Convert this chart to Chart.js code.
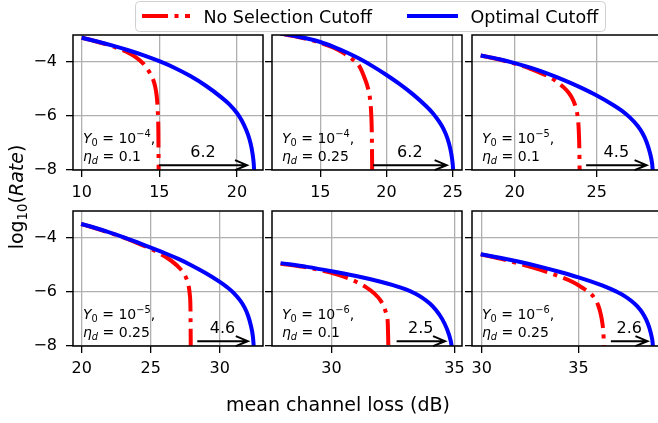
<!DOCTYPE html>
<html>
<head>
<meta charset="utf-8">
<script src="https://cdn.jsdelivr.net/npm/chart.js@4.4.1/dist/chart.umd.min.js"></script>
<style>
  html, body { margin: 0; padding: 0; background: #fff; }
  body { width: 658px; height: 423px; overflow: hidden; position: relative; font-family: "DejaVu Sans", sans-serif; }
  canvas.panel { position: absolute; left: 0; top: 0; }
  #overlay { position: absolute; left: 0; top: 0; }
</style>
</head>
<body>
<canvas id="p0" class="panel" width="670" height="423"></canvas>
<canvas id="p1" class="panel" width="670" height="423"></canvas>
<canvas id="p2" class="panel" width="670" height="423"></canvas>
<canvas id="p3" class="panel" width="670" height="423"></canvas>
<canvas id="p4" class="panel" width="670" height="423"></canvas>
<canvas id="p5" class="panel" width="670" height="423"></canvas>

<svg id="overlay" width="658" height="423" font-family="DejaVu Sans">
  <rect x="135.5" y="1.5" width="470" height="30" rx="4" ry="4" fill="#fff" fill-opacity="0.8" stroke="#d0d0d0" stroke-width="1"/>
  <line x1="142" y1="16" x2="190" y2="16" stroke="#ff0000" stroke-width="4" stroke-dasharray="26 6.5 4 6.5"/>
  <text x="203.5" y="22.5" font-size="17.5">No Selection Cutoff</text>
  <line x1="407" y1="16" x2="458" y2="16" stroke="#0000ff" stroke-width="4"/>
  <text x="470.5" y="22.5" font-size="17.5">Optimal Cutoff</text>
  <text x="338" y="411" font-size="19" text-anchor="middle">mean channel loss (dB)</text>
  <text x="23" y="197" font-size="19" text-anchor="middle" transform="rotate(-90 23 197)">log<tspan font-size="13.3" dy="4">10</tspan><tspan dy="-4">(</tspan><tspan font-style="italic">Rate</tspan>)</text>
</svg>

<script>
// ---- data ----
const y0Exp = ['\u22124', '\u22124', '\u22125', '\u22125', '\u22126', '\u22126'];
const etaD = ['0.1', '0.25', '0.1', '0.25', '0.1', '0.25'];
const gainLabels = ['6.2', '6.2', '4.5', '4.6', '2.5', '2.6'];
const arrowFrom = [14.99, 18.98, 24.35, 28.37, 32.65, 36.67];
const arrowTo = [20.65, 24.54, 28.04, 32.03, 34.62, 38.56];
const arrowY = -7.82;
const xMin = [9.44, 11.35, 17.39, 19.37, 27.58, 29.50];
const xMax = [21.68, 25.70, 28.98, 33.13, 35.31, 39.31];
const yMin = -8, yMax = -3;

// [loss dB, log10 rate]
const optimal1 = [[10,-3.10],[11,-3.24],[12,-3.395],[13,-3.565],[14,-3.755],[15,-3.97],[16,-4.22],[17,-4.52],[18,-4.88],[19,-5.31],[19.5,-5.56],[20,-5.89],[20.3,-6.16],[20.6,-6.52],[20.8,-6.84],[20.95,-7.2],[21.05,-7.58],[21.1,-7.93],[21.12,-8.3]];
const noSel1 = [[10,-3.10],[11,-3.25],[12,-3.42],[12.5,-3.53],[13,-3.66],[13.5,-3.83],[14,-4.08],[14.3,-4.32],[14.55,-4.58],[14.72,-4.88],[14.83,-5.25],[14.9,-5.8],[14.94,-6.6],[14.96,-8.3]];
const optimal2 = [[12,-2.95],[13,-3.03],[14,-3.13],[15,-3.26],[16,-3.44],[17,-3.65],[18,-3.89],[19,-4.17],[20,-4.48],[21,-4.82],[22,-5.2],[23,-5.64],[23.5,-5.9],[24,-6.23],[24.3,-6.48],[24.6,-6.83],[24.8,-7.18],[24.95,-7.58],[25.03,-7.98],[25.06,-8.3]];
const noSel2 = [[12,-2.95],[13,-3.04],[14,-3.15],[15,-3.29],[16,-3.47],[16.8,-3.68],[17.5,-3.93],[18,-4.2],[18.35,-4.6],[18.6,-4.97],[18.75,-5.35],[18.84,-5.9],[18.89,-6.7],[18.92,-8.3]];
const optimal3 = [[17.92,-3.76],[19,-3.89],[20,-4.04],[21,-4.22],[22,-4.43],[23,-4.67],[24,-4.94],[25,-5.24],[26,-5.59],[26.5,-5.79],[27,-6.04],[27.5,-6.37],[27.8,-6.65],[28.05,-6.98],[28.25,-7.38],[28.38,-7.78],[28.45,-8.3]];
const noSel3 = [[17.92,-3.76],[19,-3.9],[20,-4.06],[21,-4.26],[22,-4.52],[22.5,-4.7],[23,-4.95],[23.3,-5.15],[23.55,-5.4],[23.72,-5.68],[23.83,-6.0],[23.9,-6.5],[23.94,-7.3],[23.96,-8.3]];
const optimal4 = [[19.96,-3.48],[21,-3.63],[22,-3.79],[23,-3.965],[24,-4.155],[25,-4.355],[26,-4.555],[27,-4.775],[28,-5.025],[29,-5.305],[30,-5.625],[30.5,-5.81],[31,-6.03],[31.5,-6.33],[31.8,-6.58],[32.05,-6.88],[32.25,-7.24],[32.4,-7.66],[32.5,-8.3]];
const noSel4 = [[19.96,-3.48],[21,-3.64],[22,-3.8],[23,-3.98],[24,-4.18],[25,-4.4],[25.6,-4.56],[26.2,-4.74],[26.7,-4.93],[27.1,-5.12],[27.4,-5.32],[27.6,-5.52],[27.74,-5.76],[27.83,-6.1],[27.88,-6.7],[27.9,-8.3]];
const optimal5 = [[27.93,-4.93],[29,-5.07],[30,-5.23],[31,-5.41],[32,-5.62],[32.5,-5.745],[33,-5.895],[33.4,-6.055],[33.7,-6.215],[34,-6.425],[34.25,-6.665],[34.5,-6.995],[34.7,-7.375],[34.85,-7.805],[34.94,-8.3]];
const noSel5 = [[27.93,-4.95],[29,-5.09],[29.5,-5.18],[30,-5.29],[30.5,-5.43],[31,-5.62],[31.4,-5.82],[31.75,-6.06],[32,-6.32],[32.15,-6.58],[32.24,-6.85],[32.29,-7.15],[32.32,-8.3]];
const optimal6 = [[29.95,-4.6],[31,-4.74],[32,-4.89],[33,-5.06],[34,-5.25],[35,-5.46],[36,-5.7],[36.5,-5.84],[37,-6.0],[37.4,-6.16],[37.75,-6.34],[38.05,-6.54],[38.3,-6.77],[38.5,-7.03],[38.65,-7.31],[38.76,-7.61],[38.83,-7.91],[38.86,-8.3]];
const noSel6 = [[29.95,-4.6],[31,-4.77],[32,-4.96],[33,-5.17],[34,-5.42],[34.7,-5.63],[35.24,-5.86],[35.6,-6.05],[35.85,-6.25],[36.02,-6.5],[36.14,-6.8],[36.23,-7.15],[36.29,-7.6],[36.32,-8.3]];

const optimalCurves = [optimal1, optimal2, optimal3, optimal4, optimal5, optimal6];
const noSelCurves = [noSel1, noSel2, noSel3, noSel4, noSel5, noSel6];

// ---- layout (pixels) ----
const CANVAS_W = 670, CANVAS_H = 423;
const COL_LEFT = [73, 272, 472];
const ROW_TOP = [35, 211];
const AREA_W = 190, AREA_H = 135;
const Y_AXIS_W = 40, X_AXIS_H = 40;
const FONT = '"DejaVu Sans"';

function toPoints(pairs) {
    return pairs.map(p => ({ x: p[0], y: p[1] }));
}

// write text runs (for the little math labels) left to right
function drawRuns(ctx, x, y, runs, size) {
    runs.forEach(r => {
        ctx.font = (r[1] ? 'italic ' : '') + (size * r[2]) + 'px ' + FONT;
        ctx.fillText(r[0], x, y + r[3] * size);
        x += ctx.measureText(r[0]).width;
    });
}

// frame box + annotations on top of the curves
const notesPlugin = {
    id: 'notes',
    afterDatasetsDraw(chart, args, opts) {
        const i = opts.index;
        const ctx = chart.ctx, a = chart.chartArea;
        const sx = chart.scales.x, sy = chart.scales.y;
        ctx.save();

        // arrow between the two cutoffs
        const ay = sy.getPixelForValue(arrowY);
        const x0 = sx.getPixelForValue(arrowFrom[i]);
        const x1 = sx.getPixelForValue(arrowTo[i]);
        ctx.strokeStyle = '#000';
        ctx.lineWidth = 2;
        ctx.beginPath();
        ctx.moveTo(x0, ay); ctx.lineTo(x1, ay);
        ctx.moveTo(x1 - 12, ay - 5); ctx.lineTo(x1, ay); ctx.lineTo(x1 - 12, ay + 5);
        ctx.stroke();

        ctx.fillStyle = '#000';
        ctx.textBaseline = 'alphabetic';
        ctx.textAlign = 'center';
        ctx.font = '16px ' + FONT;
        ctx.fillText(gainLabels[i], (x0 + x1) / 2, ay - 8);

        ctx.textAlign = 'left';
        const tx = a.left + 10;
        drawRuns(ctx, tx, a.bottom - 26.7, [
            ['Y', true, 1, 0], ['0', false, 0.7, 0.22], [' = 10', false, 1, 0],
            [y0Exp[i], false, 0.7, -0.42], [',', false, 1, 0]
        ], 14);
        drawRuns(ctx, tx, a.bottom - 9.3, [
            ['\u03b7', true, 1, 0], ['d', true, 0.7, 0.22], [' = ' + etaD[i], false, 1, 0]
        ], 14);

        // axes frame
        ctx.strokeStyle = '#000';
        ctx.lineWidth = 1.5;
        ctx.strokeRect(a.left, a.top, a.right - a.left, a.bottom - a.top);
        ctx.restore();
    }
};

function makePanel(i) {
    const col = i % 3, row = Math.floor(i / 3);
    const left = COL_LEFT[col], top = ROW_TOP[row];
    const tickFont = { family: 'DejaVu Sans', size: 16 };
    return new Chart(document.getElementById('p' + i), {
        type: 'line',
        data: {
            datasets: [
                {
                    label: 'Optimal Cutoff',
                    data: toPoints(optimalCurves[i]),
                    borderColor: '#0000ff',
                    borderWidth: 4,
                    pointRadius: 0,
                    cubicInterpolationMode: 'monotone',
                    clip: 0
                },
                {
                    label: 'No Selection Cutoff',
                    data: toPoints(noSelCurves[i]),
                    borderColor: '#ff0000',
                    borderWidth: 4,
                    borderDash: [26, 6.5, 4, 6.5],
                    borderCapStyle: 'butt',
                    pointRadius: 0,
                    cubicInterpolationMode: 'monotone',
                    clip: 0
                }
            ]
        },
        options: {
            responsive: false,
            animation: false,
            devicePixelRatio: 1,
            events: [],
            layout: {
                padding: {
                    left: left - Y_AXIS_W,
                    top: top,
                    right: CANVAS_W - left - AREA_W,
                    bottom: CANVAS_H - top - AREA_H - X_AXIS_H
                }
            },
            plugins: {
                legend: { display: false },
                tooltip: { enabled: false },
                notes: { index: i }
            },
            scales: {
                x: {
                    type: 'linear',
                    min: xMin[i],
                    max: xMax[i],
                    afterFit: s => { s.height = X_AXIS_H; },
                    ticks: {
                        stepSize: 5, includeBounds: false, autoSkip: false, maxRotation: 0,
                        font: tickFont, color: '#000', padding: 6,
                        callback: v => String(v)
                    },
                    grid: { color: '#b0b0b0', lineWidth: 1.3, tickLength: 7, tickColor: '#000', tickWidth: 1.3 },
                    border: { display: false }
                },
                y: {
                    type: 'linear',
                    min: yMin,
                    max: yMax,
                    afterFit: s => { s.width = Y_AXIS_W; },
                    ticks: {
                        stepSize: 2, includeBounds: false, autoSkip: false,
                        font: tickFont, color: '#000', padding: 9,
                        callback: v => col === 0 ? (v < 0 ? '\u2212' + Math.abs(v) : String(v)) : ''
                    },
                    grid: { color: '#b0b0b0', lineWidth: 1.3, tickLength: 7, tickColor: '#000', tickWidth: 1.3 },
                    border: { display: false }
                }
            }
        },
        plugins: [notesPlugin]
    });
}

for (let i = 0; i < 6; i++) makePanel(i);
</script>
</body>
</html>
